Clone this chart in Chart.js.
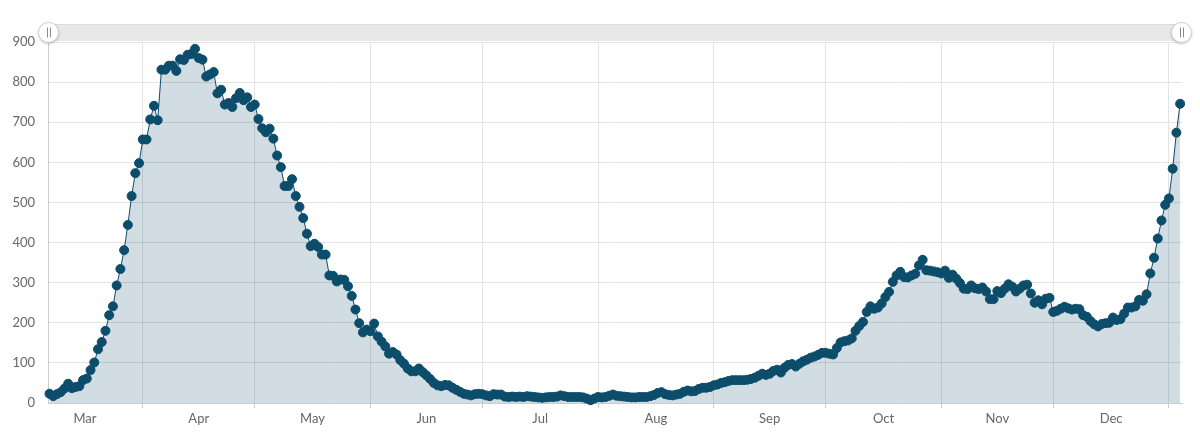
<!DOCTYPE html>
<html>
<head>
<meta charset="utf-8">
<title>Daily count</title>
<script src="https://cdn.jsdelivr.net/npm/chart.js@4.4.1/dist/chart.umd.min.js"></script>
<style>
  html, body { margin: 0; padding: 0; background: #fff; }
  #wrap { width: 1200px; height: 433px; }
</style>
</head>
<body>
<div id="wrap"><canvas id="chart" width="1200" height="433"></canvas></div>
<script>
// ===== DATA (one value per day, 7 Mar -> 4 Jan) =====
const mar = [23, 17, 22, 27, 36, 48, 37, 40, 42, 57, 61, 82, 101, 134, 152, 180, 219, 241, 293, 334, 381, 444, 516, 573, 598];
const apr = [657, 657, 707, 741, 705, 831, 831, 841, 841, 828, 857, 855, 868, 870, 883, 860, 856, 814, 819, 825, 772, 781, 744, 748, 738, 760, 773, 755, 762, 738];
const may = [744, 708, 685, 675, 684, 659, 617, 588, 541, 541, 558, 516, 489, 461, 422, 391, 397, 389, 370, 370, 318, 317, 303, 308, 307, 291, 267, 233, 199, 176, 183];
const jun = [179, 198, 166, 153, 141, 123, 127, 121, 107, 98, 86, 79, 79, 86, 77, 69, 60, 50, 44, 42, 45, 44, 38, 33, 28, 23, 21, 19, 22, 23];
const jul = [22, 19, 17, 22, 21, 21, 16, 15, 16, 15, 16, 15, 17, 16, 15, 14, 13, 14, 15, 15, 16, 19, 17, 15, 15, 15, 15, 14, 11, 7, 11];
const aug = [15, 14, 15, 18, 21, 18, 17, 16, 15, 14, 14, 15, 15, 15, 17, 20, 25, 27, 22, 20, 19, 21, 23, 28, 31, 29, 30, 35, 38, 38, 40];
const sep = [44, 46, 50, 52, 55, 57, 57, 57, 57, 58, 60, 63, 68, 73, 70, 73, 80, 83, 76, 88, 95, 97, 91, 98, 104, 108, 113, 116, 120, 125];
const oct = [125, 123, 121, 137, 151, 154, 156, 161, 180, 192, 202, 227, 241, 235, 238, 248, 264, 277, 302, 318, 327, 314, 313, 318, 322, 343, 357, 331, 330, 328, 326];
const nov = [323, 330, 312, 320, 310, 299, 285, 284, 293, 286, 284, 288, 278, 259, 259, 279, 274, 285, 296, 290, 278, 285, 293, 295, 273, 250, 256, 246, 260, 262];
const dec = [227, 230, 235, 240, 236, 233, 235, 234, 219, 215, 204, 196, 191, 197, 199, 200, 213, 207, 209, 223, 238, 238, 241, 257, 255, 271, 323, 362, 410, 455, 494];
const jan = [510, 584, 674, 746];

const firstDay = 6; // days after 1 Mar -> 7 Mar
const monthLabels = ['Mar', 'Apr', 'May', 'Jun', 'Jul', 'Aug', 'Sep', 'Oct', 'Nov', 'Dec'];
const monthStarts = [0, 31, 61, 92, 122, 153, 184, 214, 245, 275, 306]; // day index of the 1st
const yTicks = [0, 100, 200, 300, 400, 500, 600, 700, 800, 900];

const values = [].concat(mar, apr, may, jun, jul, aug, sep, oct, nov, dec, jan);
const points = values.map((v, i) => ({ x: firstDay + i, y: v }));

// ===== STYLE =====
const LINE = '#0c4d6b';
const FILL = 'rgba(12,77,107,0.19)';
const GRID = '#e3e3e3';
const AXIS = '#cccccc';
const TEXT = '#666666';
const X_MIN = 5.6, X_MAX = 309.5;

// tick list: month starts carry the grid, mid-months carry the label
const labelAt = {};
monthLabels.forEach((m, i) => { labelAt[(monthStarts[i] + monthStarts[i + 1]) / 2] = m; });
const startSet = new Set(monthStarts);
const xTicks = monthStarts.concat(Object.keys(labelAt).map(Number))
  .filter(v => v >= X_MIN && v <= X_MAX)
  .sort((a, b) => a - b);

// scrollbar strip above the plot
const scrollbar = {
  id: 'scrollbar',
  afterDraw(chart) {
    const ctx = chart.ctx;
    const { left, right } = chart.chartArea;
    const top = 24, h = 17, cy = top + h / 2;
    ctx.save();
    ctx.fillStyle = '#e8e8e8';
    ctx.fillRect(left, top, right - left, h);
    ctx.fillStyle = '#dcdcdc';
    ctx.fillRect(left, top, right - left, 1);
    [left + 0.5, right - 0.5].forEach(cx => {
      ctx.save();
      ctx.shadowColor = 'rgba(0,0,0,0.3)';
      ctx.shadowBlur = 3;
      ctx.shadowOffsetY = 1;
      ctx.beginPath();
      ctx.arc(cx, cy, 10, 0, Math.PI * 2);
      ctx.fillStyle = '#fff';
      ctx.fill();
      ctx.restore();
      ctx.strokeStyle = '#d0d0d0';
      ctx.lineWidth = 1;
      ctx.stroke();
      ctx.strokeStyle = '#8a8a8a';
      ctx.beginPath();
      const px = Math.round(cx);
      ctx.moveTo(px - 1.5, cy - 5); ctx.lineTo(px - 1.5, cy + 5);
      ctx.moveTo(px + 1.5, cy - 5); ctx.lineTo(px + 1.5, cy + 5);
      ctx.stroke();
    });
    ctx.restore();
  }
};

new Chart(document.getElementById('chart'), {
  type: 'line',
  data: {
    datasets: [{
      data: points,
      borderColor: LINE,
      borderWidth: 1,
      backgroundColor: FILL,
      fill: 'origin',
      tension: 0,
      pointRadius: 4.5,
      pointBorderWidth: 1,
      pointBackgroundColor: LINE,
      pointBorderColor: LINE,
      clip: false
    }]
  },
  options: {
    responsive: false,
    animation: false,
    devicePixelRatio: 1,
    layout: { padding: { top: 42, right: 18, left: 0, bottom: 0 } },
    plugins: { legend: { display: false }, tooltip: { enabled: false } },
    scales: {
      x: {
        type: 'linear',
        min: X_MIN,
        max: X_MAX,
        afterBuildTicks: s => { s.ticks = xTicks.map(v => ({ value: v })); },
        afterFit: s => { s.height = 30; },
        border: { color: AXIS, width: 1 },
        grid: {
          color: c => (c.tick && startSet.has(c.tick.value)) ? GRID : 'rgba(0,0,0,0)',
          tickColor: c => (c.tick && startSet.has(c.tick.value)) ? AXIS : 'rgba(0,0,0,0)',
          tickLength: 5
        },
        ticks: {
          autoSkip: false,
          maxRotation: 0,
          padding: 3,
          color: TEXT,
          font: { family: 'Lato', size: 13 },
          callback: v => labelAt[v] || ''
        }
      },
      y: {
        min: 0,
        max: 900,
        afterBuildTicks: s => { s.ticks = yTicks.map(v => ({ value: v })); },
        afterFit: s => { s.width = 48; },
        border: { color: AXIS, width: 1 },
        grid: { color: GRID, drawTicks: false },
        ticks: {
          padding: 13,
          color: TEXT,
          font: { family: 'Lato', size: 13 }
        }
      }
    }
  },
  plugins: [scrollbar]
});
</script>
</body>
</html>
